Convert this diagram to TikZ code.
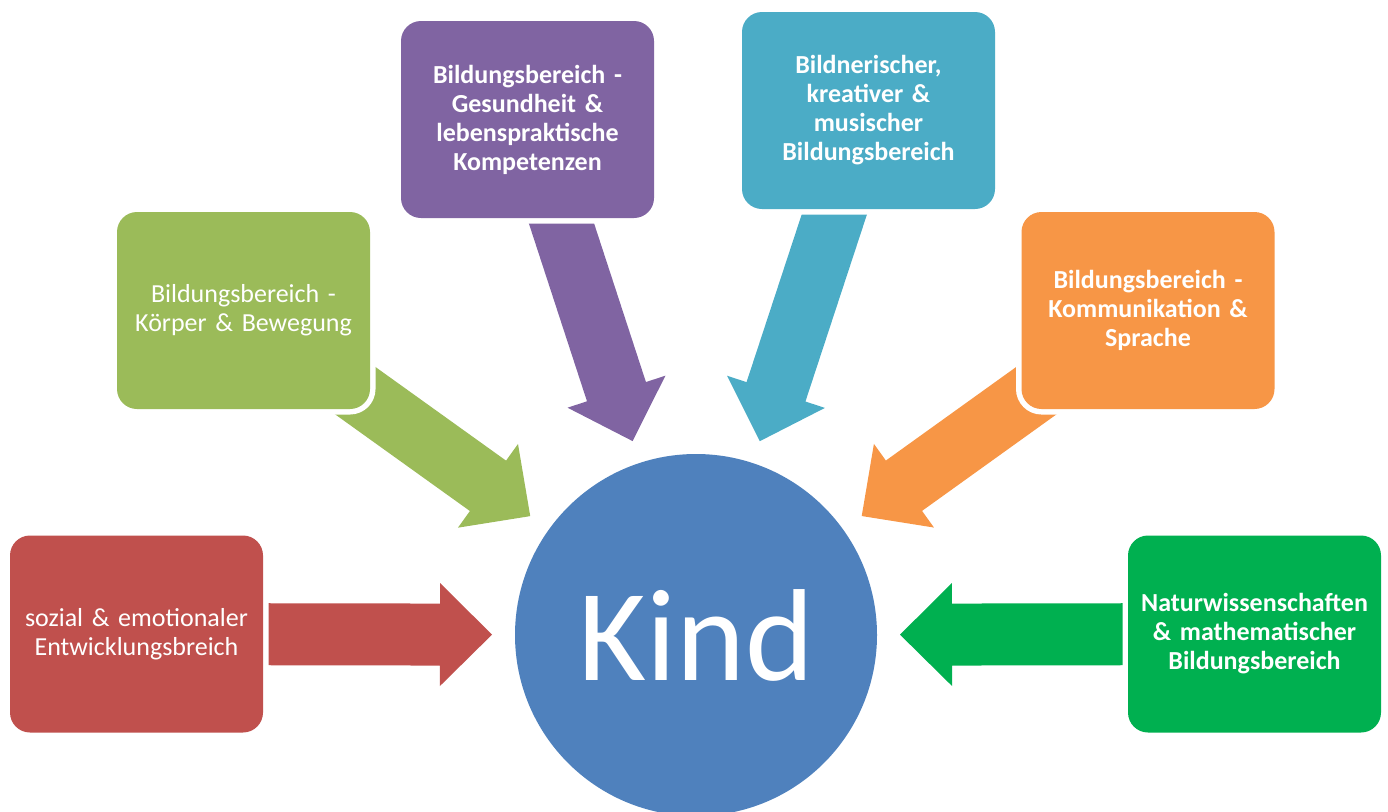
\documentclass[tikz,border=0pt]{standalone}
\usepackage{fontspec}
\setmainfont{Carlito}
\usetikzlibrary{calc,backgrounds}

\definecolor{areared}{HTML}{C0504D}
\definecolor{arealime}{HTML}{9BBB59}
\definecolor{areapurple}{HTML}{8064A2}
\definecolor{areateal}{HTML}{4BACC6}
\definecolor{areaorange}{HTML}{F79646}
\definecolor{areagreen}{HTML}{00B050}
\definecolor{childblue}{HTML}{4F81BD}

% Broad block arrow from a box towards the centre circle.
% #1 colour, #2 source node, #3 target node
\newcommand\blockarrow[3]{%
  \coordinate (t) at ($(#2.center)!80pt!(#3.center)$);
  \coordinate (p) at ($(#3.center)!204pt!(#2.center)$);
  \coordinate (h) at ($(p)!52pt!(t)$);
  \fill[#1] ($(t)!31pt!90:(p)$) -- ($(h)!31pt!-90:(t)$) -- ($(h)!51.5pt!-90:(t)$)
    -- (p) -- ($(h)!51.5pt!90:(t)$) -- ($(h)!31pt!90:(t)$)
    -- ($(t)!31pt!-90:(p)$) -- cycle;
}

\tikzset{
  area/.style={rounded corners=20pt, minimum width=253pt, minimum height=197pt,
    text width=240pt, align=center, text=white, inner sep=0pt,
    font=\fontsize{26}{29}\selectfont,
    preaction={draw=white, line width=11pt}},
  areabold/.style={area, font=\fontsize{26}{29}\selectfont\bfseries},
  child/.style={circle, minimum size=362pt, inner sep=0pt, fill=childblue,
    text=white, font=\fontsize{131}{131}\selectfont},
}

\begin{document}
\begin{tikzpicture}[x=1pt, y=-1pt]
\useasboundingbox (0,0) rectangle (1388,811);

\node[child] (kind) at (696,635) {Kind};

\node[area, fill=areared] (social) at (136.5,634)
  {sozial \& emotionaler\\Entwicklungsbreich};
\node[area, fill=arealime] (body) at (243.5,310.5)
  {Bildungsbereich -\\Körper \& Bewegung};
\node[areabold, fill=areapurple] (health) at (527.5,119.5)
  {Bildungsbereich -\\Gesundheit \&\\lebenspraktische\\Kompetenzen};
\node[areabold, fill=areateal] (arts) at (868.5,110.5)
  {Bildnerischer,\\kreativer \&\\musischer\\Bildungsbereich};
\node[areabold, fill=areaorange] (language) at (1148,310.5)
  {Bildungsbereich -\\Kommunikation \&\\Sprache};
\node[areabold, fill=areagreen] (science) at (1254.5,634)
  {Naturwissenschaften\\\& mathematischer\\Bildungsbereich};

\begin{pgfonlayer}{background}
  \blockarrow{areared}{social}{kind}
  \blockarrow{arealime}{body}{kind}
  \blockarrow{areapurple}{health}{kind}
  \blockarrow{areateal}{arts}{kind}
  \blockarrow{areaorange}{language}{kind}
  \blockarrow{areagreen}{science}{kind}
\end{pgfonlayer}
\end{tikzpicture}
\end{document}
